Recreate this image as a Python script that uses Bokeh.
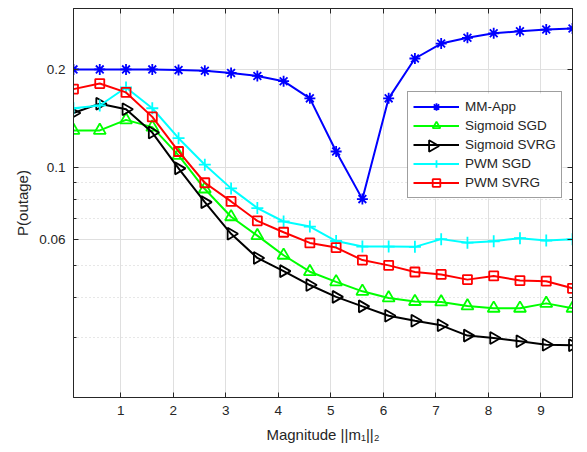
import math
from bokeh.plotting import figure
from bokeh.models import (Range1d, FixedTicker, LinearAxis, LogAxis, Legend, LegendItem,
                          BoxAnnotation, CustomJSTickFormatter)
from bokeh.embed import file_html
from bokeh.resources import INLINE

magnitude = [0.1, 0.6, 1.1, 1.6, 2.1, 2.6, 3.1, 3.6, 4.1, 4.6,
             5.1, 5.6, 6.1, 6.6, 7.1, 7.6, 8.1, 8.6, 9.1, 9.6]
mm_app = [0.200, 0.200, 0.200, 0.200, 0.199, 0.198, 0.195, 0.191, 0.184, 0.163,
          0.112, 0.080, 0.163, 0.216, 0.240, 0.250, 0.258, 0.262, 0.265, 0.267]
sigmoid_sgd = [0.130, 0.130, 0.140, 0.133, 0.109, 0.0859, 0.0706, 0.0618, 0.0538, 0.0479,
               0.0446, 0.0417, 0.0398, 0.0388, 0.0387, 0.0376, 0.0370, 0.0370, 0.0383, 0.0370]
sigmoid_svrg = [0.147, 0.157, 0.151, 0.128, 0.0994, 0.0783, 0.0626, 0.0528, 0.0481, 0.0436,
                0.0401, 0.0375, 0.0351, 0.0339, 0.0328, 0.0305, 0.0300, 0.0293, 0.0286, 0.0285]
pwm_sgd = [0.152, 0.155, 0.176, 0.152, 0.123, 0.102, 0.0863, 0.0751, 0.0683, 0.0659,
           0.0595, 0.0572, 0.0572, 0.0571, 0.0603, 0.0588, 0.0594, 0.0607, 0.0597, 0.0602]
pwm_svrg = [0.174, 0.181, 0.170, 0.143, 0.112, 0.0898, 0.0787, 0.0686, 0.0633, 0.0587,
            0.0568, 0.0520, 0.0501, 0.0478, 0.0470, 0.0453, 0.0465, 0.0450, 0.0448, 0.0426]

series_names = ["MM-App", "Sigmoid SGD", "Sigmoid SVRG", "PWM SGD", "PWM SVRG"]
x_ticks = [1, 2, 3, 4, 5, 6, 7, 8, 9]
y_ticks = [0.06, 0.1, 0.2]
y_minor_ticks = [0.03, 0.04, 0.05, 0.07, 0.08, 0.09]
x_label = "Magnitude ||m\u2081||\u2082"
y_label = "P(outage)"

FONT = "Liberation Sans"
AX = "#262626"

W, H = 587, 452
BL, BR, BT, BB = 73, 15, 8, 55
X0, X1 = 0.1, 9.6
Y0, Y1 = 0.0197, 0.3075
FW, FH = W - BL - BR, H - BT - BB


def px_to_x(sx):
    return X0 + sx / FW * (X1 - X0)


def px_to_y(sy):
    return 10 ** (math.log10(Y0) + sy / FH * (math.log10(Y1) - math.log10(Y0)))


p = figure(width=W, height=H, y_axis_type="log",
           x_range=Range1d(X0, X1), y_range=Range1d(Y0, Y1),
           output_backend="svg", toolbar_location=None,
           min_border_left=BL, min_border_right=BR, min_border_top=BT, min_border_bottom=BB,
           background_fill_color="white", border_fill_color="white")
p.outline_line_color = AX
p.outline_line_width = 1

xt = FixedTicker(ticks=x_ticks, minor_ticks=[])
yt = FixedTicker(ticks=y_ticks, minor_ticks=y_minor_ticks)

for ax in [p.xaxis[0], p.yaxis[0]]:
    ax.axis_line_color = AX
    ax.major_tick_line_color = AX
    ax.minor_tick_line_color = AX
    ax.major_tick_in = 5
    ax.major_tick_out = 0
    ax.minor_tick_in = 3
    ax.minor_tick_out = 0
    ax.major_label_text_font = FONT
    ax.major_label_text_font_size = "13.5px"
    ax.major_label_text_color = AX
    ax.axis_label_text_font = FONT
    ax.axis_label_text_font_size = "15px"
    ax.axis_label_text_font_style = "normal"
    ax.axis_label_text_color = AX

p.xaxis[0].ticker = xt
p.yaxis[0].ticker = yt
p.yaxis[0].formatter = CustomJSTickFormatter(code="return String(tick);")
p.xaxis[0].axis_label = x_label
p.yaxis[0].axis_label = y_label
p.xaxis[0].major_label_standoff = 8
p.yaxis[0].major_label_standoff = 8
p.xaxis[0].axis_label_standoff = 8
p.yaxis[0].axis_label_standoff = 5

top = LinearAxis(ticker=FixedTicker(ticks=x_ticks, minor_ticks=[]))
right = LogAxis(ticker=FixedTicker(ticks=y_ticks, minor_ticks=y_minor_ticks))
for ax in [top, right]:
    ax.axis_line_color = AX
    ax.major_tick_line_color = AX
    ax.minor_tick_line_color = AX
    ax.major_tick_in = 5
    ax.major_tick_out = 0
    ax.minor_tick_in = 3
    ax.minor_tick_out = 0
    ax.major_label_text_color = None
    ax.major_label_text_font_size = "0px"
    ax.major_label_standoff = 0
p.add_layout(top, "above")
p.add_layout(right, "right")

p.xgrid.grid_line_color = "#dfdfdf"
p.ygrid.grid_line_color = "#dfdfdf"
p.ygrid.minor_grid_line_color = "#cfcfcf"
p.ygrid.minor_grid_line_dash = "1 3"
p.xgrid.ticker = xt
p.ygrid.ticker = yt

# legend geometry (pixels from the frame's bottom-left corner)
LEG_X, LEG_Y = 334, 199
PAD, GW, GH, NROW, STAND, LABW = 5, 46, 19, 5, 6, 93
LEG_W = 2 * PAD + GW + STAND + LABW
LEG_H = 2 * PAD + NROW * GH

# white backing for the legend, drawn above the grid but below the curves
backing = BoxAnnotation(left=px_to_x(LEG_X), right=px_to_x(LEG_X + LEG_W),
                        bottom=px_to_y(LEG_Y), top=px_to_y(LEG_Y + LEG_H),
                        fill_color="white", fill_alpha=1.0, line_color=None,
                        level="underlay")
p.add_layout(backing)

styles = [
    (mm_app, "#0000ff", "asterisk", 11, 0),
    (sigmoid_sgd, "#00ff00", "triangle", 12, 0),
    (sigmoid_svrg, "#000000", "triangle", 12, -math.pi / 2),
    (pwm_sgd, "#00ffff", "cross", 12, 0),
    (pwm_svrg, "#ff0000", "square", 9, 0),
]

items = []
for name, (vals, col, mk, sz, ang) in zip(series_names, styles):
    l = p.line(magnitude, vals, line_color=col, line_width=2)
    s = p.scatter(magnitude, vals, marker=mk, size=sz, angle=ang,
                  line_color=col, fill_color=None, line_width=1.8)
    # the legend cannot rotate markers: the right-pointing key is drawn separately
    items.append(LegendItem(label=name, renderers=[l] if ang else [l, s]))

legend = Legend(items=items, location=(LEG_X, LEG_Y))
legend.label_text_font = FONT
legend.label_text_font_size = "13.5px"
legend.label_text_color = AX
legend.glyph_width = GW
legend.glyph_height = GH
legend.label_height = GH
legend.spacing = 0
legend.padding = PAD
legend.margin = 0
legend.label_standoff = STAND
legend.border_line_color = "#404040"
legend.border_line_width = 1
legend.background_fill_color = "white"
legend.background_fill_alpha = 0.0
p.add_layout(legend)

# right-pointing triangle key for "Sigmoid SVRG" (third row of the legend)
key_sx = LEG_X + PAD + GW / 2 - 3.1
key_sy = LEG_Y + LEG_H - PAD - 2.5 * GH
p.scatter([px_to_x(key_sx)], [px_to_y(key_sy)], marker="triangle", size=11.5,
          angle=-math.pi / 2, line_color="#000000", fill_color=None, line_width=1.8)

open("out.html", "w").write(file_html(p, INLINE))
